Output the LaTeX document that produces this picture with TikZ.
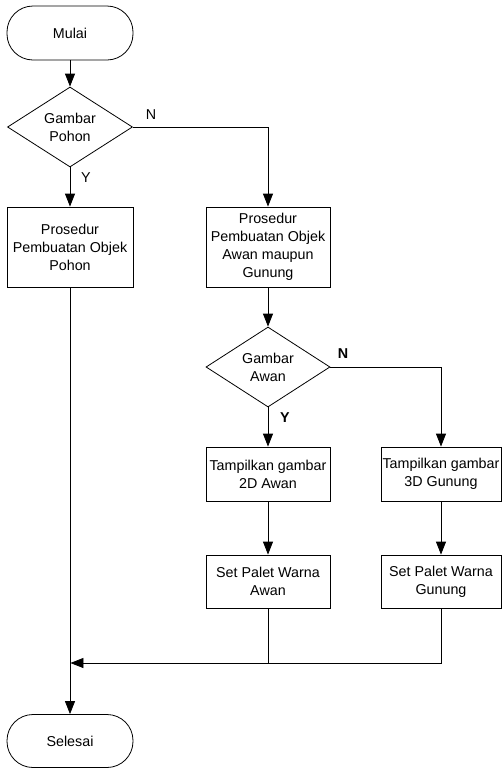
\documentclass[tikz,border=0pt]{standalone}
\usepackage{fontspec}
\setmainfont{Liberation Sans}
\usetikzlibrary{shapes.geometric}
\usetikzlibrary{arrows.meta}

\begin{document}
\begin{tikzpicture}[x=1pt,y=-1pt,line width=0.8pt,
		every node/.style={font=\fontsize{14.3}{18}\selectfont,align=center}] %% tikz
		\tikzstyle{ujung}=[rectangle,draw,rounded corners=26pt,minimum width=126pt,minimum height=54pt]
		\tikzstyle{pilih}=[diamond,draw,aspect=1.5,inner sep=0pt,minimum width=125pt,minimum height=80pt]
		\tikzstyle{proses}=[rectangle,draw,minimum width=124pt,minimum height=54pt,inner sep=1pt]
		\tikzstyle{tanda}=[inner sep=0pt]
		\tikzstyle{panah}=[-{Triangle[length=13pt,width=10pt]}]
		\useasboundingbox (0,0) rectangle (502,769);
		%% kolom kiri
		\node[ujung] (mulai) at (70,33) {Mulai};
		\node[pilih] (pohon?) at (70,127) {Gambar\\Pohon};
		\node[proses,minimum width=126pt,minimum height=80pt] (pohon) at (70,247) {Prosedur\\Pembuatan Objek\\Pohon};
		\node[ujung,minimum height=53pt] (selesai) at (70,741) {Selesai};
		%% kolom tengah
		\node[proses,minimum height=80pt] (objek) at (268,247) {Prosedur\\Pembuatan Objek\\Awan maupun\\Gunung};
		\node[pilih,minimum width=124pt] (awan?) at (268,367) {Gambar\\Awan};
		\node[proses] (awan2d) at (268,474) {Tampilkan gambar\\2D Awan};
		\node[proses,minimum height=53pt] (warnaawan) at (268,581.5) {Set Palet Warna\\Awan};
		%% kolom kanan
		\node[proses,minimum width=120pt] (gunung3d) at (441,474) {Tampilkan gambar\\3D Gunung};
		\node[proses,minimum width=120pt,minimum height=53pt] (warnagunung) at (441,581.5) {Set Palet Warna\\Gunung};
		%% label Y / N
		\node[tanda] (n1) at (151,115) {N};
		\node[tanda] (y1) at (86,178) {Y};
		\node[tanda,font=\fontsize{14.3}{18}\selectfont\bfseries] (n2) at (343,354) {N};
		\node[tanda,font=\fontsize{14.3}{18}\selectfont\bfseries] (y2) at (285,418) {Y};
		\coordinate (gabung) at (70,663);
		%% garis alir
		\draw[panah] (mulai) -- (pohon?);
		\draw[panah] (pohon?) -- (pohon);
		\draw[panah] (pohon?.east) -| (objek);
		\draw[panah] (objek) -- (awan?);
		\draw[panah] (awan?) -- (awan2d);
		\draw[panah] (awan?.east) -| (gunung3d);
		\draw[panah] (awan2d) -- (warnaawan);
		\draw[panah] (gunung3d) -- (warnagunung);
		\draw[panah] (pohon) -- (selesai);
		\draw (warnaawan) -- (warnaawan |- gabung);
		\draw[panah] (warnagunung) |- ([xshift=0.4pt]gabung);
	\end{tikzpicture}
\end{document}
